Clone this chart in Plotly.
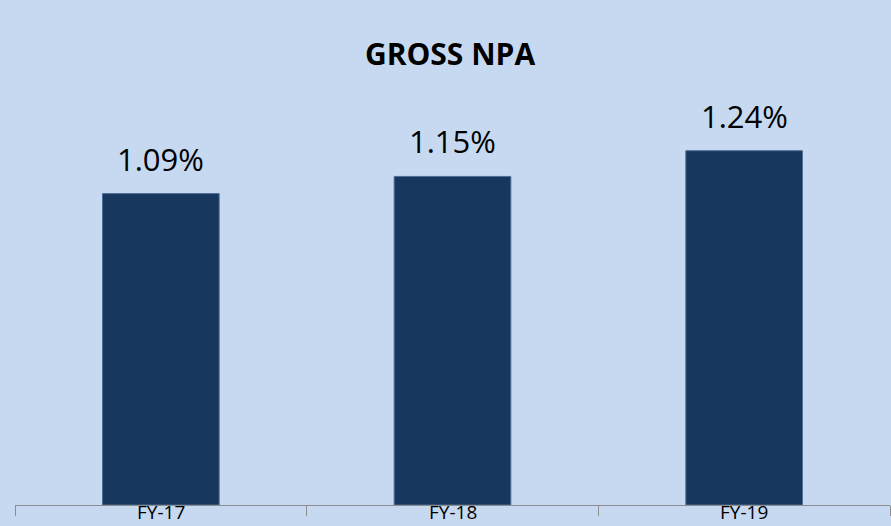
import plotly.graph_objects as go

categories = ["FY-17", "FY-18", "FY-19"]
values = [1.09, 1.15, 1.24]
labels = ["1.09%", "1.15%", "1.24%"]
title_text = "GROSS NPA"

BG = "#c6d9f1"
BAR = "#17375e"
FONT = "Open Sans, Noto Sans, sans-serif"

fig = go.Figure()
fig.add_trace(go.Bar(
    x=categories, y=values, width=0.4,
    marker=dict(color=BAR, line=dict(color="#4f6e93", width=1)),
    hoverinfo="skip",
))

annotations = []
for c, v, t in zip(categories, values, labels):
    annotations.append(dict(
        x=c, y=v, xref="x", yref="y", text=t, showarrow=False,
        yanchor="bottom", yshift=12,
        font=dict(family=FONT, size=31, color="#000000"),
    ))
    annotations.append(dict(
        x=c, y=0, xref="x", yref="paper", text=c, showarrow=False,
        yanchor="middle", yshift=-7, borderpad=0,
        font=dict(family=FONT, size=19, color="#000000"),
    ))

fig.update_layout(
    width=891, height=526,
    margin=dict(l=15, r=1, t=105, b=21),
    paper_bgcolor=BG, plot_bgcolor=BG,
    showlegend=False,
    title=dict(
        text="<b>" + title_text + "</b>",
        x=450 / 891, xref="container", xanchor="center",
        y=1 - 54 / 526, yref="container", yanchor="middle",
        font=dict(family=FONT, size=30, color="#000000"),
    ),
    annotations=annotations,
    xaxis=dict(
        type="category", range=[-0.5, 2.5],
        showline=True, linecolor="#8c8c8c", linewidth=1,
        ticks="outside", tickson="boundaries", ticklen=10, tickcolor="#8c8c8c",
        showticklabels=False, showgrid=False, zeroline=False, fixedrange=True,
    ),
    yaxis=dict(
        range=[0, 1.4], visible=False, showgrid=False, zeroline=False, fixedrange=True,
    ),
)

fig.write_html(
    "out.html",
    config={"displayModeBar": False},
    post_script="document.body.style.margin='0';document.body.style.overflow='hidden';",
)
